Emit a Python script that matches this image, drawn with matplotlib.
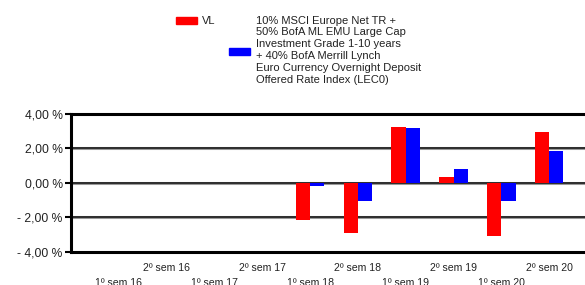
import numpy as np
import matplotlib.pyplot as plt
from matplotlib.patches import Rectangle

# datos (rentabilidad semestral, %)
categories = ['1º sem 16', '2º sem 16', '1º sem 17', '2º sem 17', '1º sem 18',
              '2º sem 18', '1º sem 19', '2º sem 19', '1º sem 20', '2º sem 20']
vl = [np.nan, np.nan, np.nan, np.nan, -2.15, -2.90, 3.23, 0.33, -3.10, 2.94]
bench = [np.nan, np.nan, np.nan, np.nan, -0.15, -1.04, 3.16, 0.84, -1.04, 1.86]
yticks = [-4, -2, 0, 2, 4]
ytick_labels = ['- 4,00 %', '- 2,00 %', '0,00 %', '2,00 %', '4,00 %']
bench_label = ('10% MSCI Europe Net TR +\n50% BofA ML EMU Large Cap\n'
               'Investment Grade 1-10 years\n+ 40% BofA Merrill Lynch\n'
               'Euro Currency Overnight Deposit\nOffered Rate Index (LEC0)')

plt.rcParams['font.family'] = ['Liberation Sans', 'DejaVu Sans']

fig = plt.figure(figsize=(5.85, 2.85), dpi=100)
ax = fig.add_axes([71 / 585, 1 - 252 / 285, 1 - 71 / 585, (252 - 114) / 285])

x = np.arange(len(categories))
w = 0.3
ax.bar(x - w / 2, vl, width=w, color='#ff0000', zorder=3)
ax.bar(x + w / 2, bench, width=w, color='#0000ff', zorder=3)

# lineas horizontales
for v in [-2, 0, 2]:
    ax.axhline(v, color='#999999', lw=2.2, zorder=1)
    ax.axhline(v, color='#111111', lw=1.1, zorder=2)

ax.set_ylim(-4, 4)
ax.set_xlim(-1.0, 9.75)
ax.set_yticks(yticks, ytick_labels, fontsize=8.7, color='#222222')
ax.tick_params(axis='y', length=4, width=1.5, pad=2)

# etiquetas alternadas: 2º arriba, 1º abajo
ax.set_xticks(x[1::2], categories[1::2], fontsize=7.6, color='#222222')
ax.set_xticks(x[0::2], categories[0::2], minor=True, fontsize=7.6, color='#222222')
ax.tick_params(axis='x', which='major', length=0, pad=8)
ax.tick_params(axis='x', which='minor', length=0, pad=19)

for s in ['right']:
    ax.spines[s].set_visible(False)
for s in ['top', 'bottom', 'left']:
    ax.spines[s].set_linewidth(2.2)

# leyenda
H = 285
fig.add_artist(Rectangle((176 / 585, 1 - 24 / H), 21 / 585, 7 / H,
                         transform=fig.transFigure, color='#ff0000'))
fig.text(202 / 585, 1 - 20.5 / H, 'VL', fontsize=8, va='center', color='#222222')
fig.add_artist(Rectangle((229 / 585, 1 - 55 / H), 21 / 585, 7 / H,
                         transform=fig.transFigure, color='#0000ff'))
fig.text(256 / 585, 1 - 15.5 / H, bench_label, fontsize=8, va='top',
         linespacing=1.23, color='#222222')

plt.savefig('out.png', dpi=100)
